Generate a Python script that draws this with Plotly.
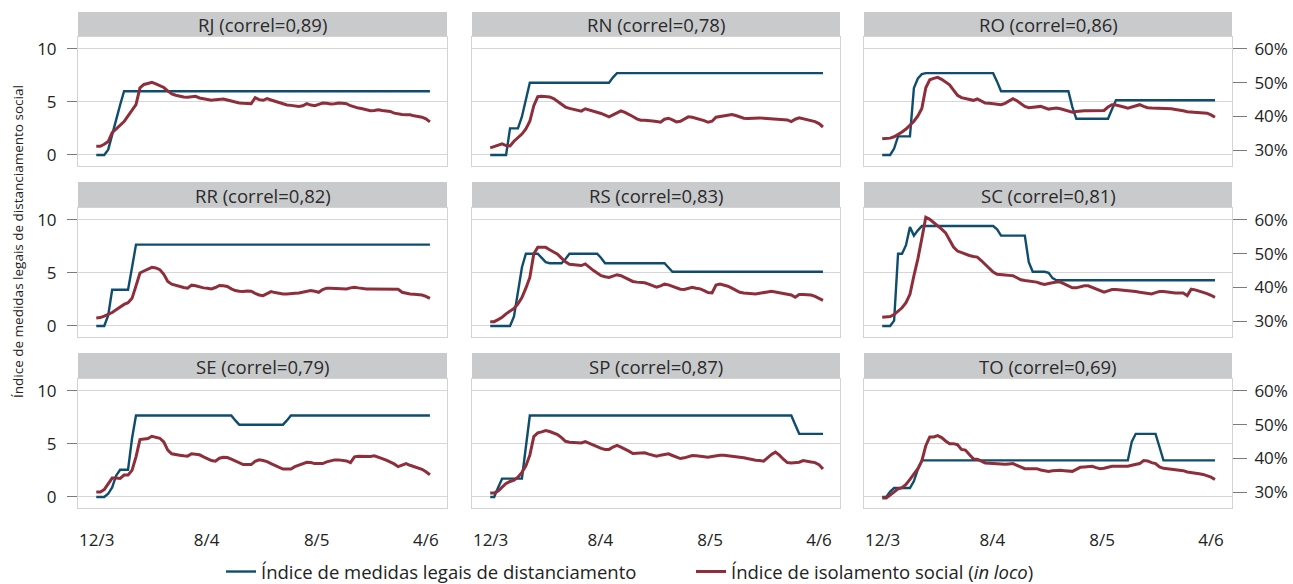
import plotly.graph_objects as go

# ---------------- data ----------------
states = ["RJ", "RN", "RO", "RR", "RS", "SC", "SE", "SP", "TO"]
correl = ["0,89", "0,78", "0,86", "0,82", "0,83", "0,81", "0,79", "0,87", "0,69"]
days = list(range(85))          # daily, 12/3 .. 4/6
x_tick_labels = ["12/3", "8/4", "8/5", "4/6"]
left_tick_values = [0, 5, 10]
right_tick_values = [30, 40, 50, 60]
right_tick_labels = ["30%", "40%", "50%", "60%"]

legal_RJ = [0, 0, 0, 0.5, 2.0, 3.3, 4.7, 6, 6, 6,
            6, 6, 6, 6, 6, 6, 6, 6, 6, 6,
            6, 6, 6, 6, 6, 6, 6, 6, 6, 6,
            6, 6, 6, 6, 6, 6, 6, 6, 6, 6,
            6, 6, 6, 6, 6, 6, 6, 6, 6, 6,
            6, 6, 6, 6, 6, 6, 6, 6, 6, 6,
            6, 6, 6, 6, 6, 6, 6, 6, 6, 6,
            6, 6, 6, 6, 6, 6, 6, 6, 6, 6,
            6, 6, 6, 6, 6]
isol_RJ = [31.2, 31.2, 31.8, 32.6, 35.2, 36.3, 37.3, 38.5, 40.2, 41.8,
           43.5, 48.5, 49.5, 49.8, 50.1, 49.7, 49.2, 48.6, 47.6, 46.7,
           46.3, 46.0, 45.8, 45.7, 45.8, 46.0, 45.5, 45.3, 45.1, 44.8,
           45.0, 45.1, 45.2, 44.9, 44.6, 44.2, 44.0, 43.9, 43.8, 43.8,
           45.6, 45.0, 44.8, 45.3, 44.9, 44.5, 44.1, 43.7, 43.4, 43.3,
           43.1, 43.0, 43.2, 43.8, 43.4, 43.2, 43.6, 44.0, 43.9, 43.7,
           43.8, 44.0, 43.9, 43.8, 43.2, 42.8, 42.5, 42.3, 42.0, 41.7,
           41.8, 42.0, 41.8, 41.6, 41.5, 41.0, 40.7, 40.6, 40.5, 40.5,
           40.2, 40.0, 39.8, 39.3, 38.4]

legal_RN = [0, 0, 0, 0, 0, 2.5, 2.5, 2.5, 3.6, 5.3,
            6.8, 6.8, 6.8, 6.8, 6.8, 6.8, 6.8, 6.8, 6.8, 6.8,
            6.8, 6.8, 6.8, 6.8, 6.8, 6.8, 6.8, 6.8, 6.8, 6.8,
            6.8, 7.3, 7.7, 7.7, 7.7, 7.7, 7.7, 7.7, 7.7, 7.7,
            7.7, 7.7, 7.7, 7.7, 7.7, 7.7, 7.7, 7.7, 7.7, 7.7,
            7.7, 7.7, 7.7, 7.7, 7.7, 7.7, 7.7, 7.7, 7.7, 7.7,
            7.7, 7.7, 7.7, 7.7, 7.7, 7.7, 7.7, 7.7, 7.7, 7.7,
            7.7, 7.7, 7.7, 7.7, 7.7, 7.7, 7.7, 7.7, 7.7, 7.7,
            7.7, 7.7, 7.7, 7.7, 7.7]
isol_RN = [30.7, 31.1, 31.6, 31.9, 31.4, 31.3, 32.7, 33.8, 34.8, 36.3,
           38.6, 43.2, 45.9, 46.0, 46.0, 45.8, 45.3, 44.5, 43.5, 42.8,
           42.4, 42.2, 42.0, 41.6, 42.3, 42.0, 41.7, 41.3, 40.9, 40.4,
           39.9, 40.5, 41.2, 41.7, 41.2, 40.7, 40.0, 39.3, 38.9, 38.9,
           38.9, 38.7, 38.5, 38.3, 39.2, 39.5, 39.0, 38.4, 38.6, 39.2,
           39.9, 39.8, 39.5, 39.2, 38.8, 38.3, 38.6, 39.8, 40.0, 40.2,
           40.4, 40.6, 40.3, 39.9, 39.5, 39.4, 39.5, 39.6, 39.6, 39.5,
           39.4, 39.4, 39.3, 39.2, 39.1, 39.0, 38.5, 39.2, 39.6, 39.3,
           39.1, 38.9, 38.5, 37.9, 36.9]

legal_RO = [0, 0, 0, 0.6, 1.75, 1.75, 1.75, 1.75, 6.3, 7.2,
            7.6, 7.7, 7.7, 7.7, 7.7, 7.7, 7.7, 7.7, 7.7, 7.7,
            7.7, 7.7, 7.7, 7.7, 7.7, 7.7, 7.7, 7.7, 7.7, 6.9,
            6.0, 6.0, 6.0, 6.0, 6.0, 6.0, 6.0, 6.0, 6.0, 6.0,
            6.0, 6.0, 6.0, 6.0, 6.0, 6.0, 6.0, 6.0, 4.5, 3.4,
            3.4, 3.4, 3.4, 3.4, 3.4, 3.4, 3.4, 3.4, 4.3, 5.15,
            5.15, 5.15, 5.15, 5.15, 5.15, 5.15, 5.15, 5.15, 5.15, 5.15,
            5.15, 5.15, 5.15, 5.15, 5.15, 5.15, 5.15, 5.15, 5.15, 5.15,
            5.15, 5.15, 5.15, 5.15, 5.15]
isol_RO = [33.4, 33.4, 33.6, 34.0, 34.6, 35.4, 36.3, 37.4, 38.6, 40.2,
           42.4, 48.5, 50.9, 51.3, 51.6, 51.0, 50.2, 49.4, 47.8, 46.3,
           45.6, 45.3, 45.0, 44.8, 45.2, 44.5, 44.0, 43.9, 43.7, 43.6,
           43.5, 43.9, 44.7, 45.3, 44.7, 43.9, 43.0, 42.6, 42.7, 42.9,
           43.0, 42.6, 42.2, 42.4, 42.5, 42.3, 41.9, 41.5, 41.3, 41.5,
           41.7, 41.7, 41.7, 41.7, 41.7, 41.7, 41.8, 42.8, 43.5, 43.4,
           43.2, 42.8, 42.5, 42.9, 43.3, 43.5, 43.0, 42.6, 42.5, 42.5,
           42.5, 42.5, 42.5, 42.3, 42.1, 42.0, 41.7, 41.4, 41.3, 41.2,
           41.1, 41.1, 41.0, 40.5, 39.8]

legal_RR = [0, 0, 0, 1.0, 3.4, 3.4, 3.4, 3.4, 3.4, 5.5,
            7.65, 7.65, 7.65, 7.65, 7.65, 7.65, 7.65, 7.65, 7.65, 7.65,
            7.65, 7.65, 7.65, 7.65, 7.65, 7.65, 7.65, 7.65, 7.65, 7.65,
            7.65, 7.65, 7.65, 7.65, 7.65, 7.65, 7.65, 7.65, 7.65, 7.65,
            7.65, 7.65, 7.65, 7.65, 7.65, 7.65, 7.65, 7.65, 7.65, 7.65,
            7.65, 7.65, 7.65, 7.65, 7.65, 7.65, 7.65, 7.65, 7.65, 7.65,
            7.65, 7.65, 7.65, 7.65, 7.65, 7.65, 7.65, 7.65, 7.65, 7.65,
            7.65, 7.65, 7.65, 7.65, 7.65, 7.65, 7.65, 7.65, 7.65, 7.65,
            7.65, 7.65, 7.65, 7.65, 7.65]
isol_RR = [31.0, 31.1, 31.5, 32.0, 32.6, 33.4, 34.2, 35.0, 35.5, 36.8,
           40.5, 44.3, 44.9, 45.4, 46.0, 45.8, 45.3, 43.9, 41.8, 41.0,
           40.6, 40.3, 40.0, 39.8, 40.7, 40.5, 40.1, 39.9, 39.8, 39.6,
           40.0, 40.6, 40.5, 40.3, 39.6, 39.1, 38.9, 38.8, 39.0, 38.9,
           38.3, 37.8, 37.6, 38.2, 38.8, 38.5, 38.2, 38.1, 38.1, 38.1,
           38.3, 38.4, 38.6, 38.9, 39.1, 38.9, 38.6, 39.4, 39.8, 39.8,
           39.8, 39.7, 39.6, 39.6, 39.9, 40.1, 39.9, 39.7, 39.6, 39.6,
           39.6, 39.6, 39.6, 39.6, 39.6, 39.6, 39.5, 38.6, 38.3, 38.1,
           38.0, 37.9, 37.8, 37.4, 36.8]

legal_RS = [0, 0, 0, 0, 0, 0, 0.9, 3.2, 5.5, 6.8,
            6.8, 6.8, 6.8, 6.4, 6.0, 5.9, 5.9, 5.9, 5.9, 6.3,
            6.8, 6.8, 6.8, 6.8, 6.8, 6.8, 6.8, 6.8, 6.4, 5.9,
            5.9, 5.9, 5.9, 5.9, 5.9, 5.9, 5.9, 5.9, 5.9, 5.9,
            5.9, 5.9, 5.9, 5.9, 5.9, 5.5, 5.1, 5.1, 5.1, 5.1,
            5.1, 5.1, 5.1, 5.1, 5.1, 5.1, 5.1, 5.1, 5.1, 5.1,
            5.1, 5.1, 5.1, 5.1, 5.1, 5.1, 5.1, 5.1, 5.1, 5.1,
            5.1, 5.1, 5.1, 5.1, 5.1, 5.1, 5.1, 5.1, 5.1, 5.1,
            5.1, 5.1, 5.1, 5.1, 5.1]
isol_RS = [29.9, 29.9, 30.5, 31.2, 32.2, 33.1, 33.8, 35.2, 37.0, 39.8,
           43.0, 50.0, 51.9, 51.9, 51.9, 51.2, 50.5, 49.9, 48.7, 47.6,
           46.9, 46.7, 46.6, 46.5, 47.0, 46.0, 45.1, 44.3, 43.5, 43.2,
           43.0, 43.4, 43.8, 43.5, 43.0, 42.4, 41.8, 41.6, 41.5, 41.4,
           41.0, 40.5, 40.1, 40.5, 41.0, 40.8, 40.3, 39.9, 39.5, 39.4,
           39.8, 40.1, 39.8, 39.6, 39.1, 38.5, 38.4, 40.7, 41.0, 40.8,
           40.4, 39.8, 39.1, 38.6, 38.4, 38.3, 38.2, 38.1, 38.3, 38.4,
           38.7, 38.9, 38.7, 38.4, 38.2, 38.1, 37.8, 37.1, 37.9, 37.9,
           37.8, 37.8, 37.4, 36.8, 36.2]

legal_SC = [0, 0, 0, 0.5, 6.8, 6.8, 7.6, 9.3, 8.5, 9.0,
            9.4, 9.4, 9.4, 9.4, 9.4, 9.4, 9.4, 9.4, 9.4, 9.4,
            9.4, 9.4, 9.4, 9.4, 9.4, 9.4, 9.4, 9.4, 9.4, 9.1,
            8.5, 8.5, 8.5, 8.5, 8.5, 8.5, 8.5, 6.0, 5.1, 5.1,
            5.1, 5.1, 5.0, 4.5, 4.3, 4.3, 4.3, 4.3, 4.3, 4.3,
            4.3, 4.3, 4.3, 4.3, 4.3, 4.3, 4.3, 4.3, 4.3, 4.3,
            4.3, 4.3, 4.3, 4.3, 4.3, 4.3, 4.3, 4.3, 4.3, 4.3,
            4.3, 4.3, 4.3, 4.3, 4.3, 4.3, 4.3, 4.3, 4.3, 4.3,
            4.3, 4.3, 4.3, 4.3, 4.3]
isol_SC = [31.2, 31.2, 31.4, 32.0, 33.0, 34.0, 35.5, 38.0, 43.5, 48.5,
           54.5, 60.8, 60.2, 59.3, 58.4, 57.3, 56.2, 54.2, 52.0, 50.8,
           50.3, 49.9, 49.5, 49.2, 49.0, 48.0, 46.9, 45.8, 44.6, 43.9,
           43.7, 43.7, 43.6, 43.5, 42.9, 42.3, 42.1, 42.0, 41.8, 41.6,
           41.2, 40.9, 41.2, 41.5, 41.6, 41.6, 41.0, 40.4, 39.9, 39.9,
           40.2, 40.5, 40.5, 40.0, 39.4, 38.9, 38.6, 39.0, 39.4, 39.4,
           39.3, 39.3, 39.2, 39.0, 38.8, 38.6, 38.4, 38.2, 38.1, 38.5,
           38.8, 38.8, 38.6, 38.5, 38.4, 38.4, 38.4, 37.6, 39.5, 39.3,
           39.0, 38.6, 38.2, 37.7, 37.1]

legal_SE = [0, 0, 0, 0.3, 0.9, 2.0, 2.56, 2.56, 2.56, 5.5,
            7.66, 7.66, 7.66, 7.66, 7.66, 7.66, 7.66, 7.66, 7.66, 7.66,
            7.66, 7.66, 7.66, 7.66, 7.66, 7.66, 7.66, 7.66, 7.66, 7.66,
            7.66, 7.66, 7.66, 7.66, 7.66, 7.2, 6.8, 6.8, 6.8, 6.8,
            6.8, 6.8, 6.8, 6.8, 6.8, 6.8, 6.8, 6.8, 7.2, 7.66,
            7.66, 7.66, 7.66, 7.66, 7.66, 7.66, 7.66, 7.66, 7.66, 7.66,
            7.66, 7.66, 7.66, 7.66, 7.66, 7.66, 7.66, 7.66, 7.66, 7.66,
            7.66, 7.66, 7.66, 7.66, 7.66, 7.66, 7.66, 7.66, 7.66, 7.66,
            7.66, 7.66, 7.66, 7.66, 7.66]
isol_SE = [30.1, 30.1, 30.8, 32.5, 34.2, 34.2, 34.1, 35.1, 35.1, 36.5,
           40.5, 45.6, 45.8, 45.9, 46.6, 46.4, 46.0, 44.9, 42.5, 41.4,
           41.1, 41.0, 40.8, 40.7, 41.4, 41.3, 41.1, 40.5, 39.9, 39.4,
           39.2, 40.1, 40.4, 40.3, 39.8, 39.2, 38.7, 38.2, 38.2, 38.2,
           39.2, 39.6, 39.4, 39.1, 38.5, 38.0, 37.5, 36.9, 36.9, 36.9,
           37.6, 38.1, 38.5, 38.9, 38.8, 38.5, 38.5, 38.5, 39.0, 39.3,
           39.6, 39.6, 39.5, 39.3, 38.8, 40.5, 40.7, 40.6, 40.5, 40.6,
           40.8, 40.5, 40.0, 39.5, 39.0, 38.4, 37.6, 38.0, 38.5, 38.0,
           37.6, 37.3, 36.8, 36.1, 35.2]

legal_SP = [0, 0, 0.9, 1.72, 1.72, 1.72, 1.72, 1.72, 1.72, 4.7,
            7.66, 7.66, 7.66, 7.66, 7.66, 7.66, 7.66, 7.66, 7.66, 7.66,
            7.66, 7.66, 7.66, 7.66, 7.66, 7.66, 7.66, 7.66, 7.66, 7.66,
            7.66, 7.66, 7.66, 7.66, 7.66, 7.66, 7.66, 7.66, 7.66, 7.66,
            7.66, 7.66, 7.66, 7.66, 7.66, 7.66, 7.66, 7.66, 7.66, 7.66,
            7.66, 7.66, 7.66, 7.66, 7.66, 7.66, 7.66, 7.66, 7.66, 7.66,
            7.66, 7.66, 7.66, 7.66, 7.66, 7.66, 7.66, 7.66, 7.66, 7.66,
            7.66, 7.66, 7.66, 7.66, 7.66, 7.66, 7.66, 6.8, 5.94, 5.94,
            5.94, 5.94, 5.94, 5.94, 5.94]
isol_SP = [29.8, 29.8, 30.4, 31.4, 32.6, 33.2, 33.6, 34.5, 35.9, 37.8,
           41.0, 46.5, 47.6, 47.9, 48.3, 48.0, 47.6, 47.1, 46.2, 45.1,
           44.8, 44.7, 44.6, 44.6, 45.0, 44.5, 43.9, 43.4, 43.0, 42.7,
           42.7, 43.4, 43.9, 43.4, 42.9, 42.2, 41.5, 41.6, 41.8, 41.7,
           41.3, 40.9, 40.7, 41.0, 41.3, 41.4, 40.9, 40.4, 40.0, 40.2,
           40.6, 40.9, 40.8, 40.6, 40.5, 40.4, 40.6, 40.9, 41.0, 41.0,
           40.9, 40.8, 40.6, 40.4, 40.2, 39.9, 39.7, 39.5, 39.4, 39.2,
           40.2, 41.2, 41.9, 41.0, 39.8, 38.8, 38.7, 38.7, 38.9, 39.4,
           39.3, 39.0, 38.8, 38.2, 36.9]

legal_TO = [0, 0, 0.5, 0.84, 0.84, 0.84, 0.84, 0.84, 1.5, 2.6,
            3.44, 3.44, 3.44, 3.44, 3.44, 3.44, 3.44, 3.44, 3.44, 3.44,
            3.44, 3.44, 3.44, 3.44, 3.44, 3.44, 3.44, 3.44, 3.44, 3.44,
            3.44, 3.44, 3.44, 3.44, 3.44, 3.44, 3.44, 3.44, 3.44, 3.44,
            3.44, 3.44, 3.44, 3.44, 3.44, 3.44, 3.44, 3.44, 3.44, 3.44,
            3.44, 3.44, 3.44, 3.44, 3.44, 3.44, 3.44, 3.44, 3.44, 3.44,
            3.44, 3.44, 3.44, 5.2, 5.94, 5.94, 5.94, 5.94, 5.94, 5.94,
            4.7, 3.44, 3.44, 3.44, 3.44, 3.44, 3.44, 3.44, 3.44, 3.44,
            3.44, 3.44, 3.44, 3.44, 3.44]
isol_TO = [28.3, 28.3, 29.2, 30.2, 31.0, 31.4, 32.3, 33.8, 35.3, 37.0,
           39.3, 43.8, 46.4, 46.4, 46.8, 46.2, 45.2, 44.4, 44.4, 44.1,
           42.7, 42.5, 41.2, 39.9, 39.8, 39.3, 38.7, 38.6, 38.5, 38.4,
           38.2, 38.3, 38.4, 38.5, 38.0, 37.4, 37.0, 37.0, 37.0, 37.0,
           36.6, 36.3, 36.2, 36.4, 36.5, 36.5, 36.4, 36.3, 36.2, 36.8,
           37.4, 37.5, 37.6, 37.7, 37.3, 37.0, 37.1, 37.4, 37.7, 37.7,
           37.7, 37.7, 37.7, 38.0, 38.3, 38.5, 39.4, 39.3, 38.8, 38.5,
           37.5, 37.1, 37.0, 36.9, 36.8, 36.7, 36.4, 36.0, 35.9, 35.7,
           35.5, 35.3, 35.0, 34.5, 33.8]

legal = [legal_RJ, legal_RN, legal_RO, legal_RR, legal_RS, legal_SC, legal_SE, legal_SP, legal_TO]
isol = [isol_RJ, isol_RN, isol_RO, isol_RR, isol_RS, isol_SC, isol_SE, isol_SP, isol_TO]

name_legal = "Índice de medidas legais de distanciamento"
name_isol = "Índice de isolamento social (<i>in loco</i>)"
y_title = "Índice de medidas legais de distanciamento social"

# ---------------- styling ----------------
W, H = 1293, 584
BLUE = "#0e4d6e"
RED = "#8e2e3b"
GRID = "#d6d6d6"
BORDER = "#d3d3d3"
TICKC = "#7a7a7a"
HEADER = "#c9cacc"
FONT = "Open Sans"
TXT = "#222222"

col_px = [(78, 447), (472, 840), (864, 1232)]
row_px = [(37, 166), (208, 337), (379, 508)]    # plot area top/bottom (px from top)
hdr_px = [12, 182, 353]                          # header strip top

xdom = [[a / W, b / W] for a, b in col_px]
ydom = [[1 - b / H, 1 - a / H] for a, b in row_px]

fig = go.Figure()
layout = dict(
    width=W, height=H,
    margin=dict(l=0, r=0, t=0, b=0, autoexpand=False),
    paper_bgcolor="white", plot_bgcolor="white",
    font=dict(family=FONT, color=TXT),
    showlegend=True,
    legend=dict(orientation="h", x=221 / W, xanchor="left", y=-7 / H, yanchor="bottom",
                font=dict(size=18.5, color=TXT, family=FONT), bgcolor="rgba(0,0,0,0)",
                entrywidth=425),
)
shapes = []
annotations = []

for i in range(9):
    r, c = divmod(i, 3)
    sx = "" if i == 0 else str(i + 1)
    xid = "x" + sx
    yid = "y" + sx
    y2n = str(i + 10)
    y2id = "y" + y2n

    fig.add_trace(go.Scatter(
        x=days, y=legal[i], xaxis=xid, yaxis=yid, mode="lines",
        line=dict(color=BLUE, width=2.4), name=name_legal,
        legendgroup="legal", showlegend=(i == 0), hoverinfo="skip"))
    fig.add_trace(go.Scatter(
        x=days, y=isol[i], xaxis=xid, yaxis=y2id, mode="lines",
        line=dict(color=RED, width=3), name=name_isol,
        legendgroup="isol", showlegend=(i == 0), hoverinfo="skip"))

    layout["xaxis" + sx] = dict(
        domain=xdom[c], anchor=yid, range=[-4.6, 88.3],
        showgrid=False, zeroline=False,
        showline=True, mirror=True, linecolor=BORDER, linewidth=1,
        tickmode="array", tickvals=[0.1, 27.8, 55.5, 83], ticktext=x_tick_labels,
        showticklabels=(r == 2), ticks="", ticklabelstandoff=17,
        tickfont=dict(size=17, color=TXT, family=FONT), fixedrange=True)
    layout["yaxis" + sx] = dict(
        domain=ydom[r], anchor=xid, range=[-1.04, 11.1],
        tickmode="array", tickvals=left_tick_values,
        ticktext=[str(v) for v in left_tick_values],
        showgrid=True, gridcolor=GRID, gridwidth=1, zeroline=False,
        showline=True, mirror=True, linecolor=BORDER, linewidth=1,
        showticklabels=(c == 0), ticks=("outside" if c == 0 else ""),
        ticklen=10, tickcolor=TICKC, tickwidth=1, ticklabelstandoff=7,
        tickfont=dict(size=17, color=TXT, family=FONT), fixedrange=True)
    layout["yaxis" + y2n] = dict(
        domain=ydom[r], anchor=xid, overlaying=yid, side="right",
        range=[25.35, 63.55], tickmode="array", tickvals=right_tick_values,
        ticktext=right_tick_labels, showgrid=False, zeroline=False, showline=False,
        showticklabels=(c == 2), ticks=("outside" if c == 2 else ""),
        ticklen=14, tickcolor=TICKC, tickwidth=1, ticklabelstandoff=4,
        tickfont=dict(size=17, color=TXT, family=FONT), fixedrange=True)

    # header strip
    shapes.append(dict(type="rect", xref="paper", yref="paper",
                       x0=xdom[c][0], x1=xdom[c][1],
                       y0=ydom[r][1], y1=1 - hdr_px[r] / H,
                       fillcolor=HEADER, line=dict(width=0), layer="below"))
    annotations.append(dict(
        xref="paper", yref="paper", x=(xdom[c][0] + xdom[c][1]) / 2,
        y=(ydom[r][1] + 1 - hdr_px[r] / H) / 2, xanchor="center", yanchor="middle",
        text=f"{states[i]} (correl={correl[i]})", showarrow=False,
        font=dict(size=18.5, color="#2b2b2b", family=FONT)))

annotations.append(dict(
    xref="paper", yref="paper", x=18 / W, y=1 - 242 / H, xanchor="center", yanchor="middle",
    text=y_title, textangle=-90, showarrow=False,
    font=dict(size=13.5, color=TXT, family=FONT)))

layout["shapes"] = shapes
layout["annotations"] = annotations
fig.update_layout(**layout)

fig.write_html("out.html", config={"displayModeBar": False},
               post_script="document.body.style.margin='0px';document.body.style.overflow='hidden';")
